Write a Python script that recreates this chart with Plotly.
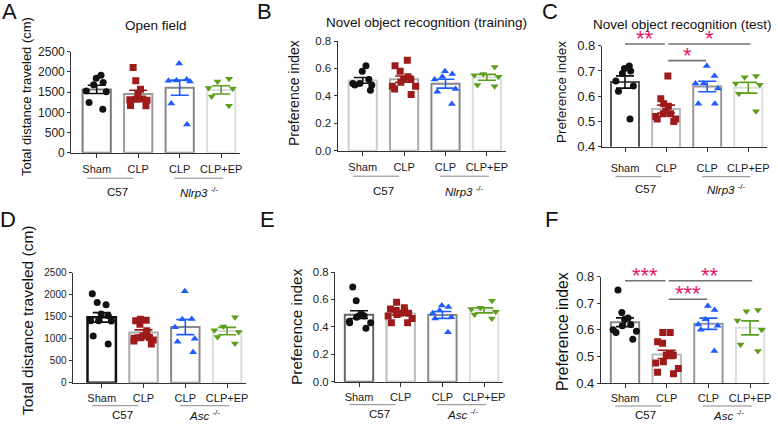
import numpy as np
import plotly.graph_objects as go

W, H = 778, 425
FONT = "Liberation Sans, Arial, sans-serif"

groups = ["Sham", "CLP", "CLP", "CLP+EP"]

# A - open field (Nlrp3-/-)
a_sham = [1920, 1840, 1740, 1680, 1530, 1510, 1240, 1075]
a_clp = [2110, 1780, 1570, 1470, 1330, 1320, 1310, 1300, 1170, 1160]
a_ko_clp = [2210, 1810, 1790, 1780, 1760, 1220, 700]
a_ko_ep = [1830, 1760, 1600, 1590, 1390, 1160]

# B - novel object recognition, training (Nlrp3-/-)
b_sham = [0.62, 0.58, 0.52, 0.49, 0.49, 0.48, 0.48, 0.44]
b_clp = [0.66, 0.62, 0.58, 0.54, 0.52, 0.52, 0.50, 0.47, 0.47, 0.45, 0.41]
b_ko_clp = [0.58, 0.56, 0.54, 0.52, 0.45, 0.43, 0.34]
b_ko_ep = [0.61, 0.56, 0.55, 0.54, 0.48, 0.47]

# C - novel object recognition, test (Nlrp3-/-)
c_sham = [0.72, 0.71, 0.70, 0.69, 0.66, 0.64, 0.62, 0.51]
c_clp = [0.68, 0.59, 0.57, 0.56, 0.54, 0.53, 0.53, 0.52, 0.51, 0.51, 0.50]
c_ko_clp = [0.72, 0.68, 0.65, 0.65, 0.63, 0.57, 0.57]
c_ko_ep = [0.68, 0.675, 0.65, 0.645, 0.61, 0.54]

# D - open field (Asc-/-)
d_sham = [2020, 1820, 1770, 1560, 1520, 1410, 1410, 1400, 1060, 880]
d_clp = [1440, 1420, 1410, 1330, 1180, 1060, 1030, 1020, 1010, 970, 950, 880]
d_ko_clp = [2080, 1450, 1440, 1260, 1000, 930, 690]
d_ko_ep = [1490, 1280, 1190, 1150, 1040, 890]

# E - training (Asc-/-)
e_sham = [0.69, 0.59, 0.49, 0.48, 0.48, 0.47, 0.44, 0.43, 0.43, 0.39]
e_clp = [0.58, 0.54, 0.53, 0.52, 0.51, 0.50, 0.50, 0.49, 0.48, 0.46, 0.43, 0.43]
e_ko_clp = [0.555, 0.545, 0.52, 0.50, 0.47, 0.46, 0.36]
e_ko_ep = [0.59, 0.54, 0.53, 0.51, 0.49, 0.46]

# F - test (Asc-/-)
f_sham = [0.75, 0.665, 0.645, 0.64, 0.62, 0.615, 0.60, 0.595, 0.59, 0.565]
f_clp = [0.59, 0.59, 0.555, 0.55, 0.51, 0.505, 0.505, 0.48, 0.475, 0.455, 0.44, 0.435]
f_ko_clp = [0.69, 0.675, 0.64, 0.62, 0.615, 0.60, 0.52]
f_ko_ep = [0.675, 0.67, 0.635, 0.60, 0.545, 0.52]

c_sig = [(0, 1, "**"), (1, 3, "*"), (1, 2, "*")]
f_sig = [(0, 1, "***"), (1, 3, "**"), (1, 2, "***")]

pt_colors = ["#111111", "#9e1b1b", "#1f5bff", "#5c9e1e"]
pt_symbols = ["circle", "square", "triangle-up", "triangle-down"]

nlrp3 = "<i>Nlrp3</i> <sup>-/-</sup>"
asc = "<i>Asc</i> <sup>-/-</sup>"

# layout of each panel in pixels
panels = [
    dict(letter="A", let_xy=(9, 12), title="Open field", title_xy=(156, 26),
         data=[a_sham, a_clp, a_ko_clp, a_ko_ep], ko=nlrp3,
         ax=71.3, c0=96.7, sp=41.5, ytop=51.7, ybot=152.7, yr=[0, 2500], dt=500, fmt="d",
         ytitle="Total distance traveled (cm)", yt_xy=(26, 97), yt_size=13, tick_size=12,
         lines=["#7a7a7a", "#9a9a9a", "#888888", "#dddddd"], lw=[2, 2, 2, 2],
         lab=15, und=25.5, grp=39, sig=None),
    dict(letter="B", let_xy=(264, 12), title="Novel object recognition (training)", title_xy=(426, 23),
         data=[b_sham, b_clp, b_ko_clp, b_ko_ep], ko=nlrp3,
         ax=337.7, c0=362.7, sp=41.4, ytop=41, ybot=150.7, yr=[0, 0.8], dt=0.2, fmt=".1f",
         ytitle="Preference index", yt_xy=(294, 93), yt_size=14, tick_size=11.5,
         lines=["#cccccc", "#aaaaaa", "#888888", "#dddddd"], lw=[2, 2, 2, 2],
         lab=15, und=25.5, grp=40, sig=None),
    dict(letter="C", let_xy=(550, 12), title="Novel object recognition (test)", title_xy=(682, 24),
         data=[c_sham, c_clp, c_ko_clp, c_ko_ep], ko=nlrp3,
         ax=602, c0=625, sp=41.1, ytop=45.7, ybot=146.7, yr=[0.4, 0.8], dt=0.1, fmt=".1f",
         ytitle="Preference index", yt_xy=(562, 92), yt_size=13.5, tick_size=13,
         lines=["#555555", "#bbbbbb", "#999999", "#dddddd"], lw=[2, 2, 2, 2],
         lab=20, und=30, grp=42, sig=c_sig, sig_y=[0.807, 0.807, 0.741]),
    dict(letter="D", let_xy=(8, 219), title=None,
         data=[d_sham, d_clp, d_ko_clp, d_ko_ep], ko=asc,
         ax=72.7, c0=101.7, sp=41.8, ytop=272.7, ybot=382.7, yr=[0, 2500], dt=500, fmt="d",
         ytitle="Total distance traveled (cm)", yt_xy=(27, 320), yt_size=15.5, tick_size=10,
         lines=["#111111", "#aaaaaa", "#888888", "#dddddd"], lw=[2.5, 2, 2, 2],
         lab=14, und=23, grp=32, sig=None),
    dict(letter="E", let_xy=(267, 219), title=None,
         data=[e_sham, e_clp, e_ko_clp, e_ko_ep], ko=asc,
         ax=335, c0=359, sp=41.7, ytop=272, ybot=381.7, yr=[0, 0.8], dt=0.2, fmt=".1f",
         ytitle="Preference index", yt_xy=(296, 327), yt_size=15.4, tick_size=11.3,
         lines=["#666666", "#bbbbbb", "#888888", "#dddddd"], lw=[2, 2, 2, 2],
         lab=14, und=23, grp=32, sig=None),
    dict(letter="F", let_xy=(551, 219), title=None,
         data=[f_sham, f_clp, f_ko_clp, f_ko_ep], ko=asc,
         ax=601, c0=625, sp=41.7, ytop=276.7, ybot=383, yr=[0.4, 0.8], dt=0.1, fmt=".1f",
         ytitle="Preference index", yt_xy=(562, 332), yt_size=15.7, tick_size=13,
         lines=["#888888", "#bbbbbb", "#999999", "#dddddd"], lw=[2, 2, 2, 2],
         lab=14, und=23, grp=32, sig=f_sig, sig_y=[0.785, 0.785, 0.715]),
]

fig = go.Figure()
annotations = []
shapes = []
XR1 = 3.45


def txt(text, x, y, size, color="#111", **kw):
    d = dict(text=text, x=x, y=y, xref="paper", yref="paper", showarrow=False,
             xanchor="center", yanchor="middle", font=dict(size=size, color=color, family=FONT))
    d.update(kw)
    return d


for i, p in enumerate(panels):
    n = "" if i == 0 else str(i + 1)
    xref, yref = "x" + n, "y" + n
    xr0 = (p["ax"] - p["c0"]) / p["sp"]
    x1px = p["ax"] + (XR1 - xr0) * p["sp"]

    means = [float(np.mean(v)) for v in p["data"]]
    sems = [float(np.std(v, ddof=1) / np.sqrt(len(v))) for v in p["data"]]

    fig.add_trace(go.Bar(
        x=[0, 1, 2, 3], y=means, width=0.68, xaxis=xref, yaxis=yref,
        marker=dict(color="white", line=dict(color=p["lines"], width=p["lw"])),
        showlegend=False, hoverinfo="skip"))

    for k, vals in enumerate(p["data"]):
        fig.add_trace(go.Box(
            x=[k] * len(vals), y=vals, xaxis=xref, yaxis=yref,
            boxpoints="all", jitter=1, pointpos=0, width=0.72,
            fillcolor="rgba(0,0,0,0)", line=dict(width=0, color="rgba(0,0,0,0)"),
            marker=dict(symbol=pt_symbols[k], size=7, color=pt_colors[k]),
            showlegend=False, hoveron="points"))
        fig.add_trace(go.Scatter(
            x=[k], y=[means[k]], mode="markers", xaxis=xref, yaxis=yref,
            marker=dict(size=1, color="rgba(0,0,0,0)"),
            error_y=dict(type="data", array=[sems[k]], color=pt_colors[k], thickness=1.6, width=9),
            showlegend=False, hoverinfo="skip"))

    tv = list(np.arange(p["yr"][0], p["yr"][1] + p["dt"] / 2, p["dt"]))
    fig.layout["xaxis" + n] = dict(
        domain=[p["ax"] / W, x1px / W], range=[xr0, XR1], anchor=yref, automargin=False,
        tickvals=[0, 1, 2, 3], ticktext=groups, ticks="outside", ticklen=4,
        tickcolor="#333", tickwidth=1.2, showline=True, linecolor="#333", linewidth=1.3,
        showgrid=False, zeroline=False, ticklabelstandoff=p["lab"] - 13,
        tickfont=dict(size=11, color="#1a1a1a", family=FONT))
    fig.layout["yaxis" + n] = dict(
        domain=[1 - p["ybot"] / H, 1 - p["ytop"] / H], range=p["yr"], anchor=xref, automargin=False,
        tickvals=tv, tickformat=p["fmt"], ticks="outside", ticklen=3,
        tickcolor="#333", tickwidth=1.2, showline=True, linecolor="#333", linewidth=1.3,
        showgrid=False, zeroline=False,
        tickfont=dict(size=p["tick_size"], color="#1a1a1a", family=FONT))

    # panel letter, title, y title
    annotations.append(txt(p["letter"], p["let_xy"][0] / W, 1 - p["let_xy"][1] / H, 22))
    if p["title"]:
        annotations.append(txt(p["title"], p["title_xy"][0] / W, 1 - p["title_xy"][1] / H, 13.5))
    annotations.append(txt(p["ytitle"], p["yt_xy"][0] / W, 1 - p["yt_xy"][1] / H, p["yt_size"],
                           textangle=-90))

    # strain grouping
    und_y = 1 - (p["ybot"] + p["und"]) / H
    grp_y = 1 - (p["ybot"] + p["grp"]) / H
    for a, b, label, cx in [(-0.23, 0.88, "C57", 0.5), (1.87, 3.05, p["ko"], 2.47)]:
        shapes.append(dict(type="line", xref=xref, yref="paper", x0=a, x1=b, y0=und_y, y1=und_y,
                           line=dict(color="#888", width=1)))
        annotations.append(txt(label, cx, grp_y, 11.5, xref=xref))

    # significance
    if p["sig"]:
        r0, r1 = p["yr"]
        for (a, b, stars), yv in zip(p["sig"], p["sig_y"]):
            yd = (yv - r0) / (r1 - r0)
            x0 = a + (0.05 if a > 0 else 0)
            x1 = b + (0.05 if b == 3 else -0.03)
            shapes.append(dict(type="line", xref=xref, yref=yref + " domain", x0=x0, x1=x1,
                               y0=yd, y1=yd, line=dict(color="#707070", width=1.6)))
            annotations.append(txt(stars, (x0 + x1) / 2, yd, 22, color="#e5176b",
                                   xref=xref, yref=yref + " domain", yanchor="bottom", yshift=-9))

fig.update_layout(
    width=W, height=H, margin=dict(l=0, r=0, t=0, b=0, autoexpand=False),
    paper_bgcolor="white", plot_bgcolor="white", boxmode="overlay",
    annotations=annotations, shapes=shapes, showlegend=False,
    font=dict(family=FONT, color="#111"))

fig.write_html("out.html", config={"displayModeBar": False},
               post_script="document.body.style.margin='0';")
